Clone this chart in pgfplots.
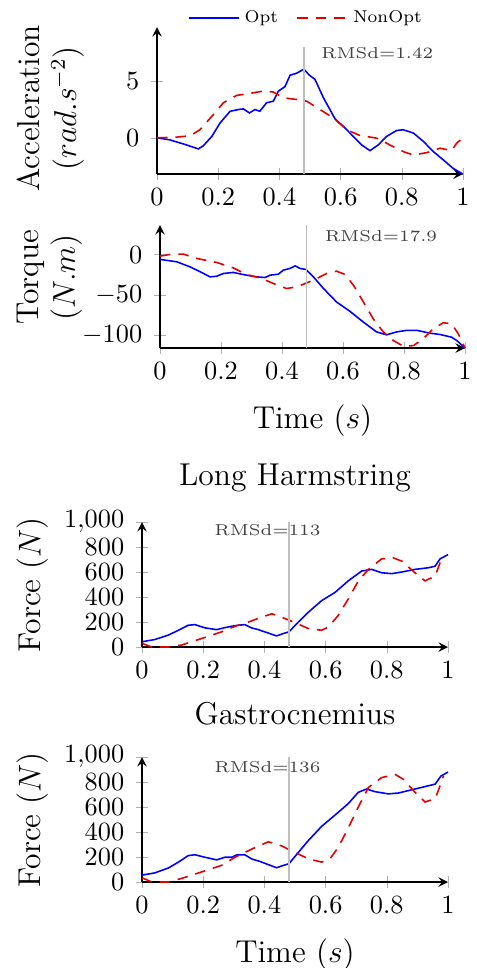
\documentclass[border=0pt]{standalone}
\usepackage{graphicx}
\usepackage{pgfplots}
\pgfplotsset{compat=1.18}

\pgfplotsset{
  every axis title shift=0pt,
  panel/.style={
    scale only axis,
    axis lines=left,
    axis line style={line width=0.6pt, -stealth},
    xmin=0, xmax=1,
    xtick={0,0.2,0.4,0.6,0.8,1},
    tick align=center,
    major tick style={gray!60},
    tick label style={font=\normalsize},
    xticklabel style={yshift=0.3pt},
    yticklabel style={xshift=-1.1pt},
    label style={font=\large},
    clip=false,
  },
  opt/.style={blue, line width=0.6pt},
  nonopt/.style={red!90!black, line width=0.6pt, dash pattern=on 4pt off 3pt},
  mark48/.style={gray!50, line width=0.5pt, forget plot},
}
\tikzset{rms/.style={font=\fontsize{6}{7}\selectfont, text=black!75}}
\newcommand{\rmsd}[1]{\scalebox{1.1}[1]{RMSd=#1}}

\begin{document}
\begin{tikzpicture}
\useasboundingbox (0,0) rectangle (181.26pt,-367.84pt);

% acceleration
\begin{axis}[panel,
  at={(59.66pt,-66.12pt)}, anchor=south west,
  width=116.28pt, height=55.86pt,
  ymin=-3.2, ymax=9.8, ytick={0,5},
  ylabel={Acceleration\\($rad.s^{-2}$)},
  ylabel style={align=center, at={([xshift=-56.8pt,yshift=-3pt]axis description cs:0,0.5)}, anchor=north},
  legend columns=2,
  legend style={draw=none, fill=none, font=\fontsize{6.5}{7.5}\selectfont,
    at={([xshift=-1pt,yshift=3.4pt]axis description cs:0.5,1)}, anchor=center,
    /tikz/every even column/.append style={column sep=5pt}},
  legend image code/.code={\draw[#1] (0pt,0pt) -- (19pt,0pt);},
]
\addplot[opt] coordinates {
(0,0) (0.042,-0.18) (0.086,-0.54) (0.135,-0.98) (0.151,-0.71) (0.179,0.12)
(0.206,1.31) (0.239,2.35) (0.266,2.5) (0.282,2.56) (0.302,2.2) (0.32,2.5)
(0.336,2.35) (0.358,3.1) (0.38,3.24) (0.397,4.14) (0.418,4.52) (0.435,5.54)
(0.456,5.71) (0.48,6.07) (0.498,5.54) (0.516,5.18) (0.544,3.54) (0.582,1.67)
(0.609,1.01) (0.636,0.27) (0.669,-0.63) (0.696,-1.13) (0.723,-0.63) (0.75,0.12)
(0.783,0.65) (0.805,0.71) (0.838,0.42) (0.871,-0.33) (0.903,-1.22) (0.936,-1.96)
(0.968,-2.71) (0.996,-3.15) (1,-3.2)
};
\addplot[nonopt] coordinates {
(0,0) (0.064,0.06) (0.108,0.18) (0.14,0.71) (0.179,1.9) (0.217,3.1) (0.26,3.75)
(0.304,3.93) (0.348,4.14) (0.38,4.05) (0.413,3.54) (0.456,3.39) (0.489,3.24)
(0.533,2.5) (0.576,1.76) (0.62,0.71) (0.663,0.21) (0.718,-0.03) (0.761,-0.63)
(0.805,-1.22) (0.838,-1.52) (0.881,-1.31) (0.925,-0.92) (0.963,-1.13)
(0.979,-0.48) (1,0)
};
\addplot[mark48] coordinates {(0.48,-3.2) (0.48,8)};
\node[rms] at (axis cs:0.72,7.5) {\rmsd{1.42}};
\legend{Opt, NonOpt}
\end{axis}

% torque
\begin{axis}[panel,
  at={(60.8pt,-132.24pt)}, anchor=south west,
  width=115.9pt, height=46.74pt,
  ymin=-116, ymax=37, ytick={-100,-50,0},
  ylabel={Torque\\($N.m$)},
  ylabel style={align=center, at={([xshift=-58pt,yshift=3.5pt]axis description cs:0,0.5)}, anchor=north},
  xlabel={Time ($s$)},
  xlabel style={at={([yshift=-30.4pt]axis description cs:0.5,0)}, anchor=base},
]
\addplot[opt] coordinates {
(0,-5.8) (0.055,-8.75) (0.098,-15) (0.131,-21) (0.164,-27.5) (0.186,-26.7)
(0.208,-23.3) (0.24,-22) (0.268,-24.2) (0.295,-26.2) (0.317,-27.5) (0.344,-28.3)
(0.361,-25.4) (0.388,-24.2) (0.404,-19.2) (0.426,-17) (0.443,-13.8) (0.459,-17)
(0.479,-18.3) (0.503,-27.5) (0.536,-42) (0.579,-58.8) (0.623,-70.4) (0.667,-83.8)
(0.71,-96) (0.743,-99.6) (0.776,-96) (0.809,-94) (0.842,-94) (0.885,-97.5)
(0.918,-99.2) (0.956,-102.5) (0.973,-106.7) (1,-116)
};
\addplot[nonopt] coordinates {
(0,-1.7) (0.033,0.4) (0.077,0.8) (0.12,-4.6) (0.186,-9.6) (0.24,-16.3)
(0.284,-24.6) (0.328,-28.8) (0.372,-35.8) (0.415,-42) (0.448,-40) (0.481,-35)
(0.514,-29.6) (0.546,-23.3) (0.579,-20.4) (0.607,-24.6) (0.634,-37.9)
(0.667,-58.8) (0.699,-79.6) (0.732,-96) (0.765,-106.7) (0.798,-113.8)
(0.831,-113) (0.863,-104.6) (0.896,-92) (0.929,-84.6) (0.956,-85.8)
(0.978,-98.3) (1,-116)
};
\addplot[mark48] coordinates {(0.48,-116) (0.48,37)};
\node[rms] at (axis cs:0.725,23.75) {\rmsd{17.9}};
\end{axis}

% long hamstring
\begin{axis}[panel,
  at={(53.96pt,-245.86pt)}, anchor=south west,
  width=116.28pt, height=47.5pt,
  ymin=0, ymax=1000, ytick={0,200,400,600,800,1000},
  ylabel={Force ($N$)},
  ylabel style={at={([xshift=-51.1pt]axis description cs:0,0.5)}, anchor=north},
  title={Long Harmstring},
  title style={font=\large, at={([yshift=14pt]axis description cs:0.5,1)}, anchor=base},
]
\addplot[opt] coordinates {
(0,42) (0.042,60) (0.086,95) (0.119,134) (0.151,174) (0.173,179) (0.206,153)
(0.244,139) (0.271,155) (0.293,166) (0.315,174) (0.336,179) (0.358,153)
(0.38,139) (0.407,116) (0.44,89) (0.462,108) (0.48,121) (0.511,200) (0.544,279)
(0.587,371) (0.631,437) (0.674,529) (0.718,608) (0.751,621) (0.783,594)
(0.816,587) (0.849,600) (0.892,621) (0.936,634) (0.958,647) (0.974,705) (1,739)
};
\addplot[nonopt] coordinates {
(0,29) (0.032,0) (0.086,0) (0.13,16) (0.195,68) (0.26,121) (0.304,166)
(0.348,200) (0.391,239) (0.424,266) (0.456,239) (0.5,195) (0.544,147)
(0.587,134) (0.609,160) (0.641,252) (0.674,384) (0.707,529) (0.74,621)
(0.783,705) (0.821,713) (0.849,687) (0.892,594) (0.925,529) (0.958,568)
(0.974,673) (0.985,687)
};
\addplot[mark48] coordinates {(0.48,0) (0.48,1000)};
\node[rms] at (axis cs:0.41,936) {\rmsd{113}};
\end{axis}

% gastrocnemius
\begin{axis}[panel,
  at={(53.96pt,-335.16pt)}, anchor=south west,
  width=116.28pt, height=47.5pt,
  ymin=0, ymax=1000, ytick={0,200,400,600,800,1000},
  ylabel={Force ($N$)},
  ylabel style={at={([xshift=-51.1pt]axis description cs:0,0.5)}, anchor=north},
  title={Gastrocnemius},
  title style={font=\large, at={([yshift=12.2pt]axis description cs:0.5,1)}, anchor=base},
  xlabel={Time ($s$)},
  xlabel style={at={([yshift=-30.4pt]axis description cs:0.5,0)}, anchor=base},
]
\addplot[opt] coordinates {
(0,55) (0.042,73) (0.086,112) (0.119,159) (0.151,211) (0.173,218) (0.206,198)
(0.244,177) (0.271,198) (0.293,198) (0.309,216) (0.336,218) (0.358,185)
(0.386,164) (0.414,138) (0.44,114) (0.462,133) (0.48,146) (0.511,237)
(0.544,333) (0.587,445) (0.631,536) (0.674,627) (0.707,718) (0.734,744)
(0.761,723) (0.805,705) (0.838,712) (0.87,731) (0.914,757) (0.958,783)
(0.977,848) (1,879)
};
\addplot[nonopt] coordinates {
(0,34) (0.032,0) (0.086,0) (0.13,29) (0.195,81) (0.26,133) (0.304,198)
(0.358,263) (0.413,322) (0.456,289) (0.5,237) (0.544,185) (0.587,159)
(0.614,185) (0.641,276) (0.674,432) (0.707,601) (0.74,757) (0.783,835)
(0.827,861) (0.854,822) (0.892,718) (0.925,640) (0.958,666) (0.974,770)
(0.985,848)
};
\addplot[mark48] coordinates {(0.48,0) (0.48,1000)};
\node[rms] at (axis cs:0.41,918) {\rmsd{136}};
\end{axis}
\end{tikzpicture}
\end{document}
